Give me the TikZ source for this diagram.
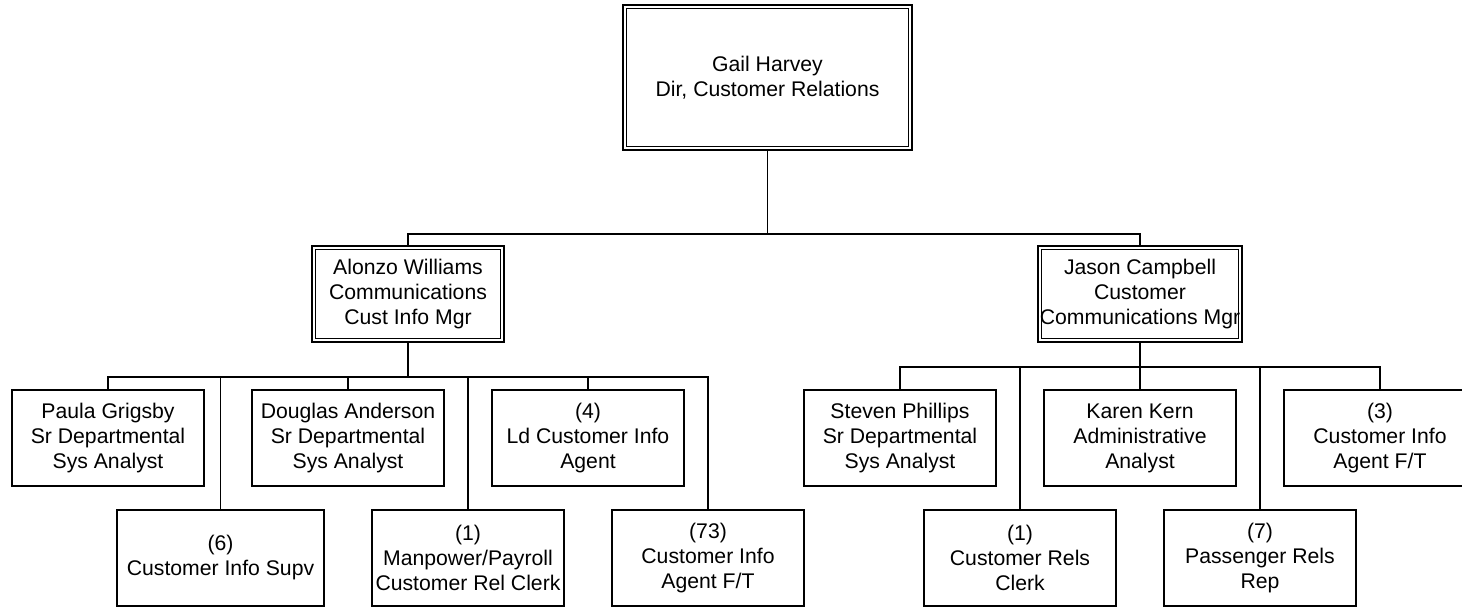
\documentclass[tikz,border=0pt]{standalone}
\usepackage{fontspec}
\setmainfont{Liberation Sans}
\usepackage{tikz}
\usetikzlibrary{positioning}

\begin{document}
\begin{tikzpicture}[x=0.5pt, y=0.5pt]
% ============================================================
%  Org chart: Customer Relations
% ============================================================

\tikzset{
  unit/.style={draw, line width=0.9pt, align=center, inner sep=1pt,
    minimum width=96pt, minimum height=48pt,
    font=\fontsize{10.6}{12.5}\selectfont},
  mgr/.style={unit, line width=1.2pt},
  link/.style={line width=0.85pt},
}

  \useasboundingbox (0,0) rectangle (1462,-607);
  \clip (0,0) rectangle (1462,-607);

  % ── Director ──────────────────────────────────────────────
  \node[mgr, minimum width=144.5pt, minimum height=72.5pt] (gail) at (767.5,-77.5)
    {Gail Harvey\\Dir, Customer Relations};

  % ── Managers ──────────────────────────────────────────────
  \node[mgr] (alonzo) at (408,-294) {Alonzo Williams\\Communications\\Cust Info Mgr};
  \node[mgr] (jason)  at (1140,-294) {Jason Campbell\\Customer\\Communications Mgr};

  % inner frame of the double boxes
  \foreach \n in {gail, alonzo, jason}{
    \draw[line width=0.55pt]
      ([shift={(2.3pt,-2.3pt)}]\n.north west) rectangle ([shift={(-2.3pt,2.3pt)}]\n.south east);
  }

  % ── Alonzo's staff ────────────────────────────────────────
  \node[unit] (paula)   at (108,-438)   {Paula Grigsby\\Sr Departmental\\Sys Analyst};
  \node[unit] (douglas) at (348,-438)   {Douglas Anderson\\Sr Departmental\\Sys Analyst};
  \node[unit] (ldagent) at (588,-438)   {(4)\\Ld Customer Info\\Agent};
  \node[unit, minimum width=103.5pt] (supv) at (220.5,-558) {(6)\\Customer Info Supv};
  \node[unit] (clerk)   at (468,-558)   {(1)\\Manpower/Payroll\\Customer Rel Clerk};
  \node[unit] (agent)   at (708,-558)   {(73)\\Customer Info\\Agent F/T};

  % ── Jason's staff ─────────────────────────────────────────
  \node[unit] (steven)    at (900,-438)  {Steven Phillips\\Sr Departmental\\Sys Analyst};
  \node[unit] (karen)     at (1140,-438) {Karen Kern\\Administrative\\Analyst};
  \node[unit] (agentft)   at (1380,-438) {(3)\\Customer Info\\Agent F/T};
  \node[unit] (relsclerk) at (1020,-558) {(1)\\Customer Rels\\Clerk};
  \node[unit] (passenger) at (1260,-558) {(7)\\Passenger Rels\\Rep};

  % ── Reporting lines ───────────────────────────────────────
  \foreach \c in {alonzo, jason}{
    \draw[link] (gail.south) -- ++(0,-83) -| (\c.north);
  }
  \foreach \c in {paula, supv, douglas, clerk, ldagent, agent}{
    \draw[link] (alonzo.south) -- ++(0,-34) -| (\c.north);
  }
  \foreach \c in {steven, relsclerk, karen, passenger, agentft}{
    \draw[link] (jason.south) -- ++(0,-24) -| (\c.north);
  }

\end{tikzpicture}
\end{document}
